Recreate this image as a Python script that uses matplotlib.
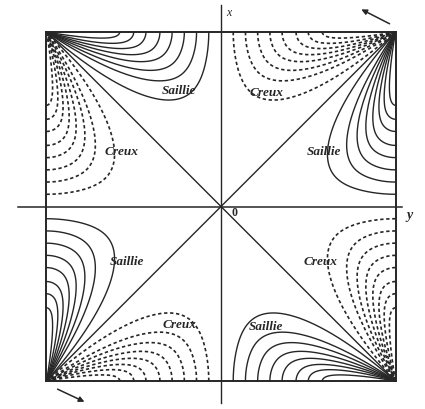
import numpy as np
import matplotlib.pyplot as plt

# loops drawn from each corner: reach along the edge and depth toward the diagonal
# (half side of the square = 1)
reach = [0.93, 0.86, 0.79, 0.72, 0.65, 0.57, 0.50, 0.42]
depth = [0.39, 0.28, 0.22, 0.17, 0.13, 0.095, 0.065, 0.035]

# corner, direction along edge, inward normal, dashed (Creux) or solid (Saillie)
families = [
    ((-1, 1), (1, 0), (0, -1), False),
    ((-1, 1), (0, -1), (1, 0), True),
    ((1, 1), (-1, 0), (0, -1), True),
    ((1, 1), (0, -1), (-1, 0), False),
    ((-1, -1), (0, 1), (1, 0), False),
    ((-1, -1), (1, 0), (0, 1), True),
    ((1, -1), (-1, 0), (0, 1), False),
    ((1, -1), (0, 1), (-1, 0), True),
]

labels = ['Saillie', 'Creux', 'Creux', 'Saillie', 'Saillie', 'Creux', 'Creux', 'Saillie']
label_u = [-0.24, -0.57, 0.26, 0.59, -0.54, -0.24, 0.57, 0.26]
label_v = [0.66, 0.31, 0.65, 0.31, -0.32, -0.68, -0.32, -0.69]

ink = '#262626'
S = 174.5  # pixels per unit
W, H = 425, 409
cx, cy = 221, 206.5

fig = plt.figure(figsize=(W / 100, H / 100), dpi=100)
ax = fig.add_axes([0, 0, 1, 1])
ax.set_xlim(-cx / S, (W - cx) / S)
ax.set_ylim(-(H - cy) / S, cy / S)
ax.axis('off')

# square outline
sq_u = [-1, 1, 1, -1, -1]
sq_v = [1, 1, -1, -1, 1]
ax.plot(sq_u, sq_v, color=ink, lw=1.4, solid_joinstyle='miter')

# axes through the centre and the diagonals
ax.plot([0, 0], [1.155, -1.126], color=ink, lw=1.0)
ax.plot([-1.163, 1.037], [0, 0], color=ink, lw=1.1)
ax.plot([-1, 1], [-1, 1], color=ink, lw=1.0)
ax.plot([-1, 1], [1, -1], color=ink, lw=1.0)

# base loop shape: starts at the corner, returns perpendicular to the edge
th0 = np.radians(42)
x = np.linspace(0, 1, 300)
r = 1 - x ** 6
base_s = r * np.cos(th0 * x)
base_t = r * np.sin(th0 * x)
base_t = base_t / base_t.max()

for corner, e, n, dashed in families:
    for d, h in zip(reach, depth):
        s = d * base_s
        t = h * base_t
        u = corner[0] + s * e[0] + t * n[0]
        v = corner[1] + s * e[1] + t * n[1]
        if dashed:
            ax.plot(u, v, color=ink, lw=1.2, linestyle=(0, (2.0, 1.6)))
        else:
            ax.plot(u, v, color=ink, lw=1.0)

for txt, lu, lv in zip(labels, label_u, label_v):
    ax.text(lu, lv, txt, ha='center', va='center', fontsize=9.5,
            family='Liberation Serif', style='italic', weight='bold', color=ink)

ax.text(0.045, 1.11, 'x', fontsize=8.5, family='Liberation Serif', style='italic',
        color=ink, ha='center', va='center')
ax.text(1.08, -0.05, 'y', fontsize=10, family='Liberation Serif', style='italic',
        weight='bold', color=ink, ha='center', va='center')
ax.text(0.075, -0.04, '0', fontsize=8.5, family='Liberation Serif', weight='bold',
        color=ink, ha='center', va='center')

# torsion arrows at two corners
ax.annotate('', xy=(0.79, 1.137), xytext=(0.98, 1.04),
            arrowprops=dict(arrowstyle='-|>', color=ink, lw=1.1, mutation_scale=8))
ax.annotate('', xy=(-0.768, -1.126), xytext=(-0.951, -1.04),
            arrowprops=dict(arrowstyle='-|>', color=ink, lw=1.1, mutation_scale=8))

fig.savefig('out.png', dpi=100)
